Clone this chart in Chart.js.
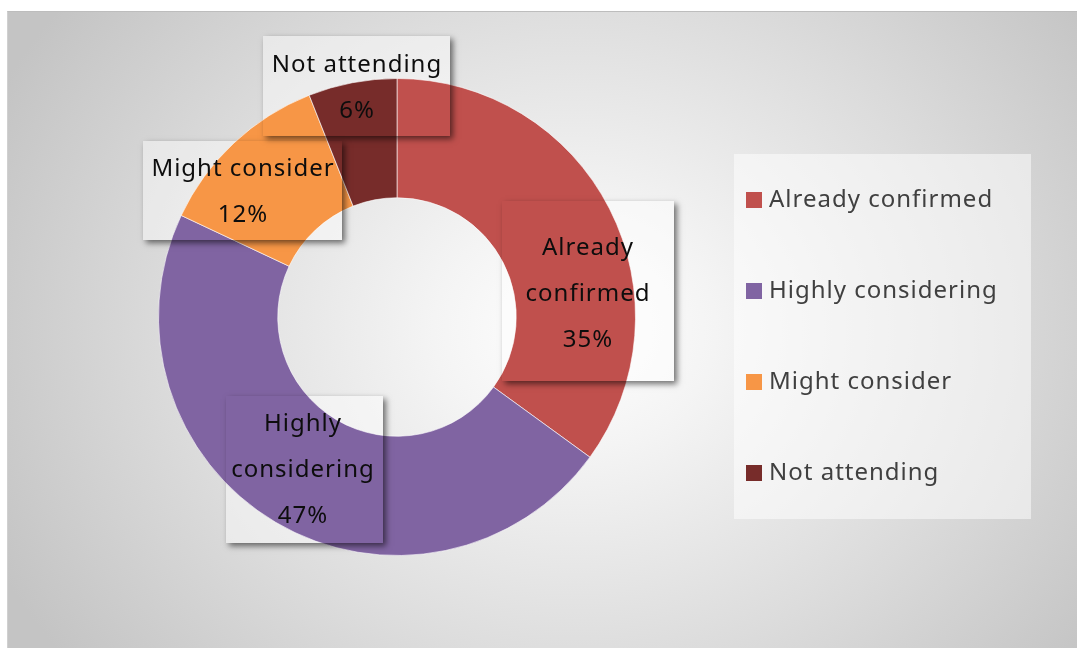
<!DOCTYPE html>
<html lang="en">
<head>
    <meta charset="UTF-8">
    <title>Attendance</title>
    <script src="https://cdn.jsdelivr.net/npm/chart.js"></script>
    <style>
        body {
            margin: 0;
            background: #fff;
            font-family: 'Noto Sans', sans-serif;
        }
        .chart-wrap {
            position: absolute;
            left: 7px;
            top: 11px;
            width: 1070px;
            height: 637px;
            border-top: 1px solid #bdbdbd;
            border-left: 1px solid #d0d0d0;
            box-sizing: border-box;
            background: radial-gradient(ellipse 60% 85% at 53% 50%, #ffffff 0%, #f4f4f4 22%, #dcdcdc 62%, #c4c4c4 100%);
        }
        canvas { display: block; }
    </style>
</head>
<body>
    <div class="chart-wrap">
        <canvas id="donut" width="1070" height="637"></canvas>
    </div>

    <script>
        const categories = ['Already confirmed', 'Highly considering', 'Might consider', 'Not attending'];
        const shares = [35, 47, 12, 6];
        const sliceColors = ['#C0504D', '#8064A2', '#F79646', '#772C2A'];

        // data label boxes: text lines come from categories/shares, placement is hand tuned
        const labelLayout = [
            { box: [494, 189, 172, 180], cx: 580, lines: ['Already', 'confirmed'], y0: 236 },
            { box: [218, 384, 157, 147], cx: 295, lines: ['Highly', 'considering'], y0: 412 },
            { box: [135, 129, 199, 99], cx: 235, lines: ['Might consider'], y0: 157 },
            { box: [255, 24, 187, 100], cx: 349, lines: ['Not attending'], y0: 53 }
        ];
        const lineGap = 46;
        const labelFont = '24px "Noto Sans", sans-serif';

        const labelBoxes = {
            id: 'labelBoxes',
            beforeDatasetsDraw(chart) {
                const ctx = chart.ctx;
                ctx.save();
                ctx.fillStyle = 'rgba(255,255,255,0.45)';
                labelLayout.forEach(l => ctx.fillRect(...l.box));
                ctx.restore();
            },
            afterDatasetsDraw(chart) {
                const ctx = chart.ctx;
                const W = chart.width, H = chart.height;
                labelLayout.forEach((l, i) => {
                    const [x, y, w, h] = l.box;
                    // shadow only, outside the box
                    ctx.save();
                    ctx.beginPath();
                    ctx.rect(0, 0, W, H);
                    ctx.rect(x, y, w, h);
                    ctx.clip('evenodd');
                    ctx.shadowColor = 'rgba(0,0,0,0.55)';
                    ctx.shadowBlur = 6;
                    ctx.shadowOffsetX = 3;
                    ctx.shadowOffsetY = 3;
                    ctx.fillStyle = '#fff';
                    ctx.fillRect(x, y, w, h);
                    ctx.restore();

                    ctx.save();
                    ctx.font = labelFont;
                    ctx.letterSpacing = '1px';
                    ctx.fillStyle = '#0d0d0d';
                    ctx.textAlign = 'center';
                    ctx.textBaseline = 'middle';
                    const text = l.lines.concat([shares[i] + '%']);
                    text.forEach((t, k) => ctx.fillText(t, l.cx, l.y0 + k * lineGap));
                    ctx.restore();
                });

                // legend
                ctx.save();
                ctx.fillStyle = 'rgba(255,255,255,0.5)';
                ctx.fillRect(726, 142, 297, 365);
                ctx.font = labelFont;
                ctx.letterSpacing = '1px';
                ctx.textBaseline = 'middle';
                ctx.textAlign = 'left';
                categories.forEach((c, i) => {
                    const yy = 188 + i * 91;
                    ctx.fillStyle = sliceColors[i];
                    ctx.fillRect(738, yy - 8, 16, 16);
                    ctx.fillStyle = '#404040';
                    ctx.fillText(c, 761, yy);
                });
                ctx.restore();
            }
        };

        new Chart(document.getElementById('donut'), {
            type: 'doughnut',
            data: {
                labels: categories,
                datasets: [{
                    data: shares,
                    backgroundColor: sliceColors,
                    borderColor: 'rgba(255,255,255,0.6)',
                    borderWidth: 1
                }]
            },
            options: {
                responsive: false,
                animation: false,
                cutout: '50%',
                layout: { padding: { top: 66, bottom: 93, left: 150, right: 442 } },
                plugins: {
                    legend: { display: false },
                    tooltip: { enabled: false }
                }
            },
            plugins: [labelBoxes]
        });
    </script>
</body>
</html>
